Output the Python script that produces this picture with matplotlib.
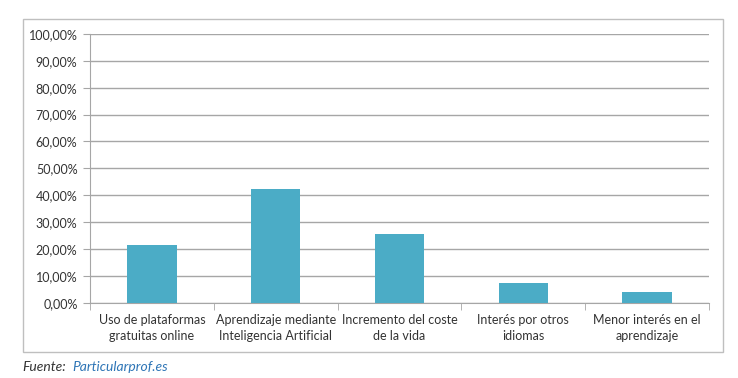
import matplotlib
matplotlib.use("Agg")
import matplotlib.pyplot as plt
from matplotlib.patches import Rectangle
import numpy as np

categories = ["Uso de plataformas\ngratuitas online",
              "Aprendizaje mediante\nInteligencia Artificial",
              "Incremento del coste\nde la vida",
              "Interés por otros\nidiomas",
              "Menor interés en el\naprendizaje"]
values = [21.3, 42.2, 25.5, 7.2, 4.0]
yticks = [0, 10, 20, 30, 40, 50, 60, 70, 80, 90, 100]
ytick_labels = [f"{v},00%" for v in yticks]

plt.rcParams['font.family'] = ['Lato', 'DejaVu Sans']

W, H = 738, 378
fig = plt.figure(figsize=(W/100, H/100), dpi=100)
# outer frame
fig.patches.append(Rectangle((23/W, 1-352/H), (723-23)/W, (352-19)/H,
                             transform=fig.transFigure, fill=False,
                             edgecolor='#BFBFBF', linewidth=1.0))
ax = fig.add_axes([90/W, 1-302.7/H, (709-90)/W, (302.7-34)/H])
x = np.arange(len(categories))
ax.bar(x, values, width=0.4, color='#4BACC6', zorder=3)
ax.set_xlim(-0.5, len(categories)-0.5)
ax.set_ylim(0, 100)
ax.set_yticks(yticks)
ax.set_yticklabels(ytick_labels, fontsize=9, color='#333333')
ax.yaxis.grid(True, color='#A6A6A6', linewidth=1.0, zorder=0)
ax.set_xticks(x)
ax.set_xticklabels(categories, fontsize=9, color='#333333', linespacing=1.4)
ax.tick_params(axis='x', length=0, pad=8)
ax.tick_params(axis='y', length=5, color='#A6A6A6', pad=4)
# category separators
ax.set_xticks(np.arange(-0.5, len(categories)), minor=True)
ax.tick_params(axis='x', which='minor', length=5, color='#A6A6A6')
for s in ['top', 'right']:
    ax.spines[s].set_visible(False)
ax.spines['left'].set_color('#A6A6A6')
ax.spines['bottom'].set_color('#A6A6A6')

fig.text(22/W, 1-367/H, "Fuente:", fontsize=10, style='italic', color='#333333', va='center')
fig.text(72/W, 1-367/H, "Particularprof.es", fontsize=10, style='italic', color='#2E75B6', va='center')

fig.savefig("out.png", dpi=100)
